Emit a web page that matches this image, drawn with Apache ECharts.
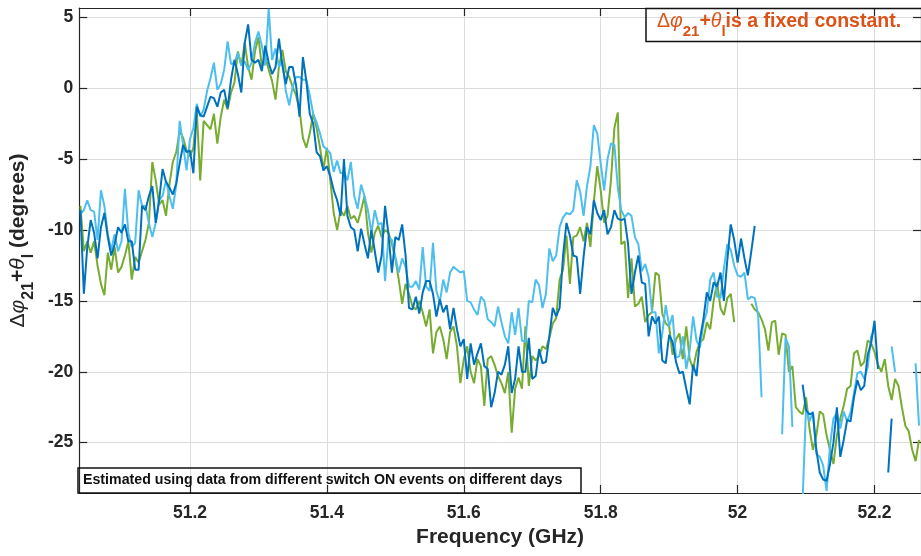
<!DOCTYPE html>
<html>
<head>
<meta charset="utf-8">
<script src="https://cdn.jsdelivr.net/npm/echarts@6/dist/echarts.min.js"></script>
<style>
  html, body { margin: 0; padding: 0; background: #fff; }
  #chart { width: 921px; height: 556px; }
</style>
</head>
<body>
<div id="chart"></div>
<script>
// Sweep grid: one sample every 5 MHz starting at 51.04 GHz
const FREQ_START = 51.04;
const FREQ_STEP = 0.005;

// Estimated phase (degrees) for three switch-ON events; null = no estimate
const eventGreen = [
  -8.3, -11.5, -10.8, -11.6, -10.8, -12.5, -13.8, -14.6, -11.6, -12.8,
  -11.2, -13.0, -12.6, -11.8, -10.8, -13.5, -11.9, -12.3, -11.5, -10.7,
  -9.5, -5.2, -6.5, -8.2, -7.9, -9.0, -6.8, -5.2, -4.5, -3.0,
  -3.5, -4.4, -4.8, -4.2, -1.6, -6.5, -2.3, -2.6, -2.9, -1.8,
  -3.9, -2.0, -0.8, -1.5, -0.3, 0.4, 2.6, 1.6, 3.2, 1.5,
  0.6, 2.6, 3.6, 1.5, 2.2, 1.3, 0.5, -0.8, 1.5, 2.7,
  1.2, 0.8, 0.1, -0.5, -1.5, -3.5, -4.2, -3.2, -1.8, -2.8,
  -4.2, -5.7, -4.2, -6.5, -8.8, -10.0, -8.6, -9.0, -8.3, -9.2,
  -9.0, -9.5, -8.6, -7.6, -10.2, -11.6, -10.2, -9.7, -10.5, -10.0,
  -10.2, -11.0, -12.0, -13.5, -15.2, -13.8, -14.5, -15.4, -15.6, -15.0,
  -15.8, -16.8, -15.6, -18.7, -17.2, -16.8, -17.7, -19.1, -17.2, -16.8,
  -18.2, -20.8, -19.1, -18.2, -20.0, -20.8, -19.1, -19.6, -22.4, -19.1,
  -18.9, -19.5, -20.3, -20.8, -21.5, -20.0, -24.3, -21.2, -20.4, -21.2,
  -16.8, -21.0, -18.9, -19.2, -18.9, -18.2, -18.4, -17.6, -16.6, -16.2,
  -13.5, -12.8, -10.4, -13.8, -10.5, -10.4, -9.8, -10.8, -9.5, -11.2,
  -8.0, -5.5, -7.2, -9.5, -9.0, -6.5, -2.8, -1.7, -11.0, -10.8,
  -14.8, -12.0, -15.4, -15.2, -14.7, -16.5, -16.0, -15.8, -13.0, -13.2,
  -15.9, -16.6, -16.8, -18.8, -17.7, -17.3, -19.1, -16.8, -19.1, -19.8,
  -18.6, -17.9, -17.7, -16.5, -17.0, -15.0, -13.7, -15.5, -16.0, -14.8,
  -14.5, -16.5, null, null, null, null, -15.2, -15.6, -15.8, -16.3,
  -17.0, -18.5, -16.5, -16.4, -18.8, -17.3, -17.4, -20.0, -19.6, -22.5,
  -22.8, -23.0, -21.8, -24.0, -25.5, -24.5, -22.8, -23.0, -24.5, -25.5,
  -26.5, -24.5, -23.3, -22.4, -21.2, -21.0, -18.7, -18.5, -19.6, -19.3,
  -17.8, -18.0, -18.6, -19.5, -20.0, -19.1, -21.0, -22.0, -20.5, -21.0,
  -22.5, -23.8, -24.2, -25.5, -26.3, -24.8
];

const eventLightBlue = [
  -8.9, -8.6, -7.9, -8.6, -8.7, -10.7, -7.2, -8.3, -10.3, -11.4,
  -10.3, -11.5, -10.8, -7.1, -10.2, -11.2, -10.9, -7.2, -8.3, -8.3,
  -9.5, -10.5, -9.5, -7.9, -7.6, -6.5, -7.6, -8.5, -6.8, -2.3,
  -4.0, -5.8, -3.6, -2.8, -1.1, -2.0, -1.5, -0.2, 0.7, 1.8,
  -0.1, 0.3, 1.3, 3.3, 1.7, 1.8, 2.5, 1.6, 1.9, 1.3,
  1.8, 3.2, 4.0, 3.0, 1.6, 5.6, 2.0, 2.8, 1.5, 2.0,
  -0.2, -1.2, 0.1, 0.8, 0.8, 0.6, 0.6, -0.5, -1.8, -2.4,
  -3.2, -4.1, -4.3, -4.6, -5.9, -5.1, -6.0, -5.9, -6.5, -5.2,
  -7.6, -8.5, -6.8, -7.6, -8.6, -10.2, -8.6, -9.6, -9.5, -13.6,
  -10.5, -10.7, -11.9, -13.0, -12.0, -12.6, -14.0, -14.0, -13.6, -14.2,
  -11.2, -14.0, -14.3, -10.9, -14.3, -15.1, -13.5, -14.4, -13.0, -12.6,
  -12.8, -13.0, -12.9, -15.0, -15.1, -15.6, -16.0, -14.7, -15.0, -16.3,
  -16.5, -16.8, -15.4, -16.5, -17.5, -18.0, -15.8, -17.4, -15.5, -17.8,
  -17.9, -15.0, -15.1, -13.5, -13.9, -15.5, -14.5, -11.3, -12.2, -11.8,
  -9.8, -9.1, -8.8, -8.9, -8.6, -6.5, -7.3, -9.0, -6.9, -5.5,
  -2.6, -3.2, -5.3, -7.2, -5.0, -3.9, -4.0, -7.0, -8.6, -9.1,
  -8.8, -9.0, -10.5, -11.0, -12.9, -12.4, -13.3, -15.8, -15.8, -18.7,
  -17.3, -15.3, -16.8, -16.0, -19.0, -18.9, -17.5, -19.8, -18.5, -16.1,
  -17.8, -18.3, -16.6, -15.8, -13.5, -13.0, -14.7, -14.8, -12.7, -11.0,
  -11.4, -12.5, -13.2, -13.3, -13.0, -14.9, -14.7, -14.8, -16.0, -21.8,
  null, null, null, null, null, -24.4, -17.6, -18.2, -23.9, null,
  null, -29.0, -22.5, -23.5, -22.8, -25.8, -26.0, -26.6, -28.4, -25.2,
  -23.3, -22.9, -24.0, -22.8, -23.5, -22.9, -21.5, -20.1, -20.0, -20.5,
  -19.7, -17.5, -17.0, null, null, null, null, -18.2, -20.0, null,
  null, null, null, null, -19.4, -23.8
];

const eventDarkBlue = [
  -8.6, -14.5, -11.2, -9.3, -10.2, -12.0, -9.8, -8.8, -10.5, -11.8,
  -11.0, -9.8, -10.2, -9.6, -10.8, -10.8, -12.8, -12.8, -8.3, -8.6,
  -7.6, -6.9, -9.5, -7.9, -5.7, -6.6, -7.0, -7.5, -6.7, -5.3,
  -4.0, -4.5, -4.4, -6.0, -1.3, -1.9, -2.0, -1.3, -0.6, -0.7,
  -1.3, -0.3, -0.1, -1.4, 0.6, 2.0, 1.0, -0.3, 3.2, 4.5,
  2.0, 1.8, 2.0, 1.2, 3.0, 1.8, 1.0, 1.5, 3.5, 1.6,
  0.3, 1.5, 1.5, 0.2, -2.0, 2.2, 0.5, -1.8, -2.5, -4.5,
  -4.8, -5.8, -5.5, -6.2, -7.2, -7.9, -9.0, -5.0, -9.0, -9.8,
  -10.0, -11.5, -9.9, -11.0, -12.0, -10.0, -11.5, -13.0, -11.8, -8.3,
  -10.3, -13.0, -10.5, -10.7, -9.6, -11.8, -15.5, -15.6, -14.7, -15.9,
  -14.4, -13.6, -13.6, -14.5, -16.1, -14.9, -15.8, -15.3, -17.0, -15.5,
  -17.0, -18.2, -17.7, -20.5, -18.0, -19.5, -18.7, -18.0, -19.6, -19.8,
  -22.5, -21.5, -20.0, -20.2, -19.5, -18.2, -21.5, -20.5, -18.2, -20.0,
  -20.0, -17.6, -20.5, -20.3, -18.4, -19.4, -19.3, -17.5, -15.5, -16.1,
  -15.5, -11.8, -9.5, -10.4, -11.8, -11.9, -14.5, -11.9, -9.8, -10.3,
  -7.9, -8.8, -9.3, -8.6, -10.3, -9.8, -8.6, -9.2, -9.3, -9.2,
  -11.0, -14.5, -13.0, -11.8, -13.7, -13.8, -17.5, -16.1, -16.6, -16.1,
  -19.2, -19.4, -17.4, -17.9, -19.3, -20.1, -20.0, -21.2, -22.3, -19.5,
  -20.3, -17.7, -16.3, -14.4, -15.0, -13.7, -14.0, -13.0, -15.0, -12.1,
  -9.6, -10.7, -12.3, -10.6, -12.0, -13.2, -11.5, -9.7, null, null,
  null, null, null, null, null, null, null, null, null, null,
  null, -20.9, -22.7, -23.0, -22.9, -25.5, -27.1, -27.6, -27.7, -26.5,
  -25.0, -22.5, -26.0, -24.8, -23.4, -23.5, -21.8, -20.6, -21.3, -21.0,
  -18.8, -18.0, -16.4, -19.8, null, null, -27.1, -23.3, null, null,
  null, null, null, null, null, null
];

// Axis ticks
const xTickValues = [51.2, 51.4, 51.6, 51.8, 52.0, 52.2];
const yTickValues = [-25, -20, -15, -10, -5, 0, 5];

const X_MIN = 51.0382, X_MAX = 52.2679;
const Y_MIN = -28.55, Y_MAX = 5.66;

const AXIS_COLOR = '#262626';
const GRID_COLOR = '#dcdcdc';
const FONT = '"Liberation Sans", Arial, Helvetica, sans-serif';
const ACCENT = '#D95319';

function toPairs(values) {
  return values.map((v, i) => [
    +(FREQ_START + i * FREQ_STEP).toFixed(3),
    v === null ? '-' : v
  ]);
}

function lineSeries(name, values, color) {
  return {
    name: name,
    type: 'line',
    data: toPairs(values),
    showSymbol: false,
    symbol: 'none',
    connectNulls: false,
    clip: true,
    lineStyle: { color: color, width: 2 },
    itemStyle: { color: color },
    emphasis: { disabled: true },
    silent: true
  };
}

// Rich-text styles for Δφ21+θl (ECharts label naming)
function labelRich(color, size) {
  const sub = Math.round(size * 0.75);
  return {
    sym: { fontFamily: FONT, fontSize: size, fontWeight: 'normal', color: color, lineHeight: size + 6, verticalAlign: 'top' },
    ital: { fontFamily: FONT, fontSize: size, fontWeight: 'normal', fontStyle: 'italic', color: color, lineHeight: size + 6, verticalAlign: 'top' },
    b: { fontFamily: FONT, fontSize: size, fontWeight: 'bold', color: color, lineHeight: size + 6, verticalAlign: 'top' },
    sub: { fontFamily: FONT, fontSize: sub, fontWeight: 'bold', color: color, lineHeight: sub, padding: [Math.round(size * 0.62), 0, 0, 0], verticalAlign: 'top' }
  };
}
// Same styles in zrender naming for graphic text elements
function graphicRich(color, size) {
  const r = labelRich(color, size);
  Object.keys(r).forEach(k => { r[k].fill = r[k].color; delete r[k].color; });
  return r;
}

const chart = echarts.init(document.getElementById('chart'), null, { renderer: 'canvas' });

const option = {
  animation: false,
  backgroundColor: '#ffffff',
  grid: { left: 78, right: -3, top: 8, bottom: 63, containLabel: false },
  xAxis: [
    {
      type: 'value', position: 'bottom', min: X_MIN, max: X_MAX, splitNumber: 6,
      axisLine: { show: true, onZero: false, lineStyle: { color: AXIS_COLOR, width: 1.2 } },
      axisTick: { show: true, inside: true, length: 8, customValues: xTickValues, lineStyle: { color: AXIS_COLOR, width: 1.2 } },
      axisLabel: {
        show: true, customValues: xTickValues,
        margin: 11, color: AXIS_COLOR, fontSize: 17.5, fontWeight: 'bold', fontFamily: FONT,
        formatter: v => String(+v.toFixed(1))
      },
      splitLine: { show: true, lineStyle: { color: GRID_COLOR, width: 1 } },
      name: 'Frequency (GHz)', nameLocation: 'middle', nameGap: 33,
      nameTextStyle: { color: AXIS_COLOR, fontSize: 21, fontWeight: 'bold', fontFamily: FONT }
    },
    {
      type: 'value', position: 'top', min: X_MIN, max: X_MAX, splitNumber: 6,
      axisLine: { show: true, onZero: false, lineStyle: { color: AXIS_COLOR, width: 1.2 } },
      axisTick: { show: true, inside: true, length: 8, customValues: xTickValues, lineStyle: { color: AXIS_COLOR, width: 1.2 } },
      axisLabel: { show: false },
      splitLine: { show: false }
    }
  ],
  yAxis: [
    {
      type: 'value', position: 'left', min: Y_MIN, max: Y_MAX, splitNumber: 7,
      axisLine: { show: true, onZero: false, lineStyle: { color: AXIS_COLOR, width: 1.2 } },
      axisTick: { show: true, inside: true, length: 8, customValues: yTickValues, lineStyle: { color: AXIS_COLOR, width: 1.2 } },
      axisLabel: {
        show: true, customValues: yTickValues,
        margin: 6, color: AXIS_COLOR, fontSize: 17.5, fontWeight: 'bold', fontFamily: FONT
      },
      splitLine: { show: true, lineStyle: { color: GRID_COLOR, width: 1 } },
      name: '{sym|\u0394}{ital|\u03c6}{sub|21}{b|+}{ital|\u03b8}{sub|l}{b| (degrees)}',
      nameLocation: 'middle', nameRotate: 90, nameGap: 36,
      nameTextStyle: { rich: labelRich(AXIS_COLOR, 21), padding: [0, 0, 0, 20] }
    },
    {
      type: 'value', position: 'right', min: Y_MIN, max: Y_MAX, splitNumber: 7,
      axisLine: { show: true, onZero: false, lineStyle: { color: AXIS_COLOR, width: 1.2 } },
      axisTick: { show: true, inside: true, length: 8, customValues: yTickValues, lineStyle: { color: AXIS_COLOR, width: 1.2 } },
      axisLabel: { show: false },
      splitLine: { show: false }
    }
  ],
  series: [
    lineSeries('Event A', eventGreen, '#77AC30'),
    lineSeries('Event B', eventLightBlue, '#4DBEEE'),
    lineSeries('Event C', eventDarkBlue, '#0072BD')
  ],
  graphic: [
    {
      type: 'rect', silent: true, z: 100,
      shape: { x: 646, y: 8.5, width: 290, height: 33 },
      style: { fill: 'none', stroke: '#111', lineWidth: 1.5 }
    },
    {
      type: 'text', silent: true, z: 101, x: 657, y: 12,
      style: {
        text: '{sym|\u0394}{ital|\u03c6}{sub|21}{b|+}{ital|\u03b8}{sub|l}{b|is a fixed constant.}',
        rich: graphicRich(ACCENT, 19.5),
        align: 'left', verticalAlign: 'top'
      }
    },
    {
      type: 'rect', silent: true, z: 100,
      shape: { x: 78, y: 468, width: 503, height: 25 },
      style: { fill: 'none', stroke: '#111', lineWidth: 1.5 }
    },
    {
      type: 'text', silent: true, z: 101, x: 83, y: 480.5,
      style: {
        text: 'Estimated using data from different switch ON events on different days',
        fill: '#111', font: 'bold 14.2px ' + FONT,
        align: 'left', verticalAlign: 'middle'
      }
    }
  ]
};

chart.setOption(option);
</script>
</body>
</html>
